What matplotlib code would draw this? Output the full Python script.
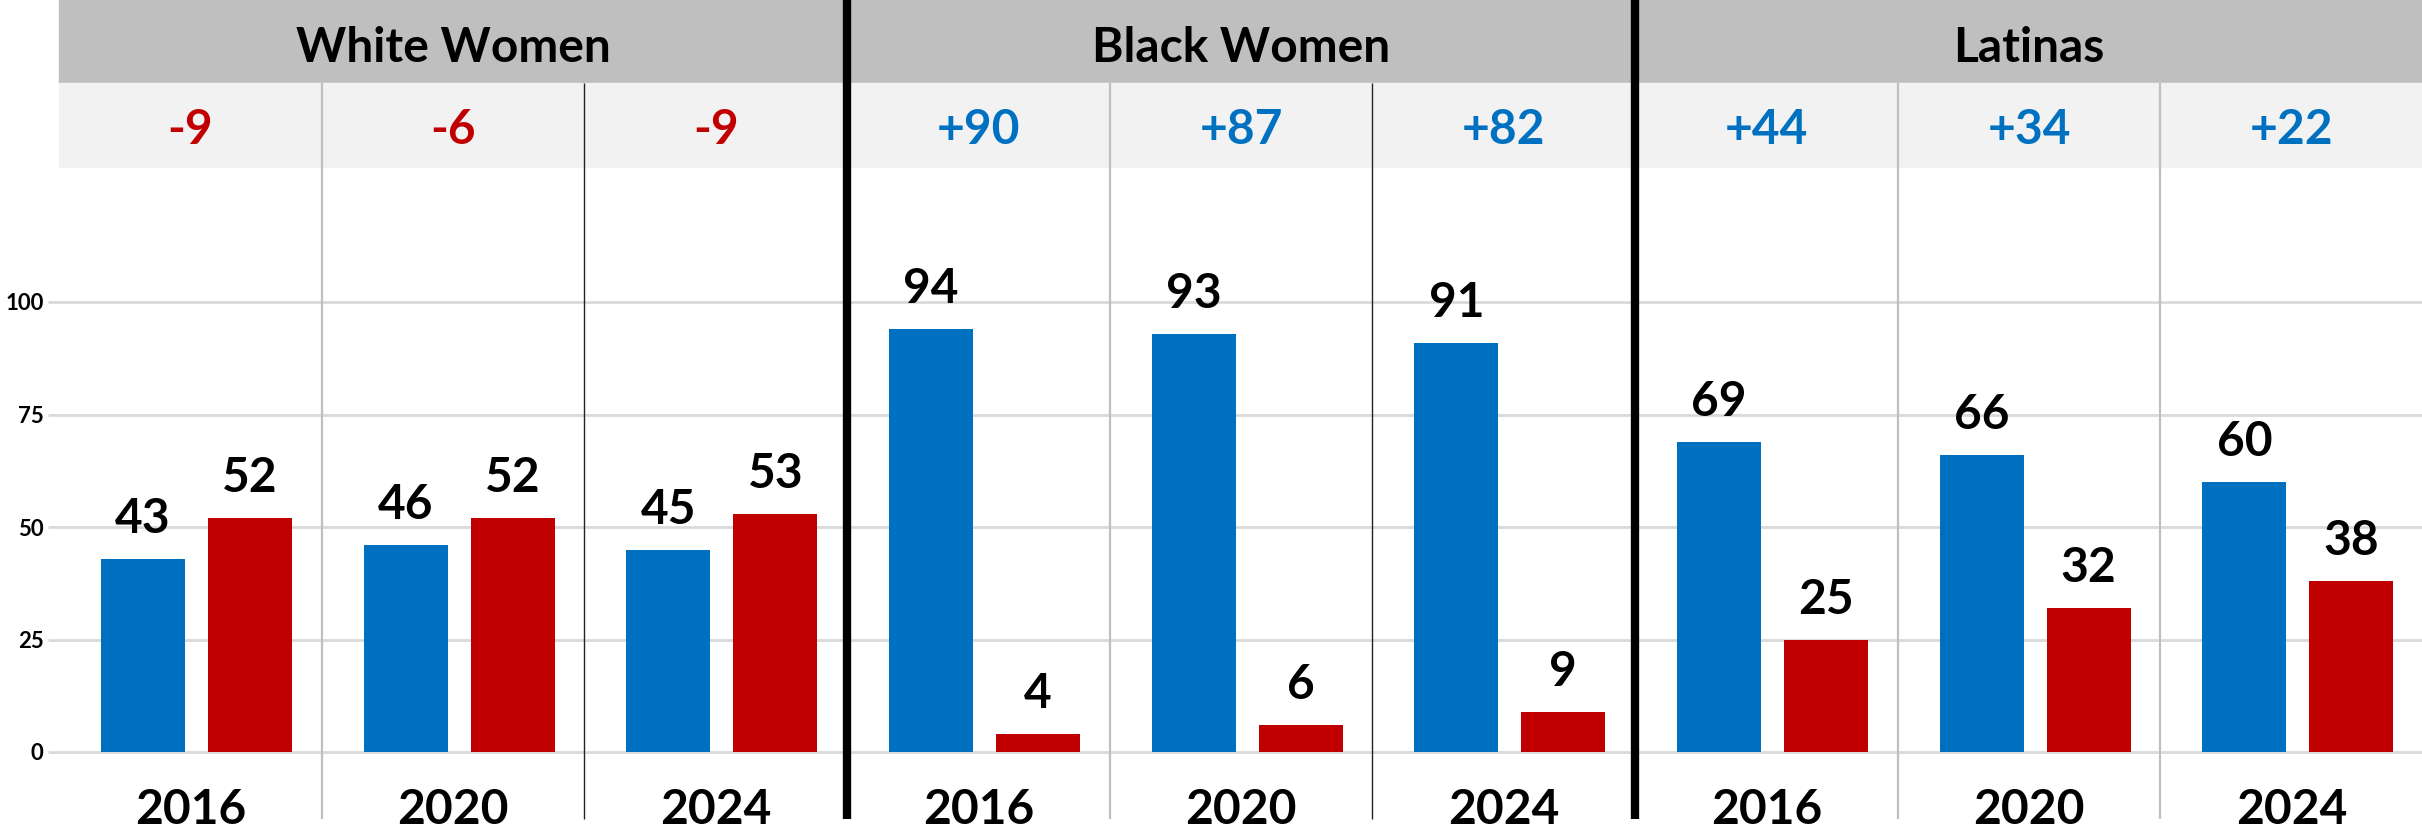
import numpy as np
import matplotlib.pyplot as plt

plt.rcParams['font.family'] = ['Lato', 'DejaVu Sans']

groups = ['White Women', 'Black Women', 'Latinas']
years = ['2016', '2020', '2024']
dem = [43, 46, 45, 94, 93, 91, 69, 66, 60]
rep = [52, 52, 53, 4, 6, 9, 25, 32, 38]
margin = ['-9', '-6', '-9', '+90', '+87', '+82', '+44', '+34', '+22']

BLUE = '#0070C0'
RED = '#C00000'

W, H = 2422, 836
fig = plt.figure(figsize=(W / 100, H / 100), dpi=100)
# axes spans the plot area: x from px 59, 9 clusters of ~262.7 px; y from 167 to 752
ax = fig.add_axes([59 / W, (H - 752) / H, 9 * 262.67 / W, 585 / H])
ax.set_xlim(0, 9)
ax.set_ylim(0, 130)
for s in ax.spines.values():
    s.set_visible(False)

n = len(dem)
x = np.arange(n)
bw = 0.32
fs = 34.5

# gridlines
for g in [0, 25, 50, 75, 100]:
    ax.hlines(g, -0.04, 9, color='#D9D9D9', lw=2, zorder=0, clip_on=False)

ax.bar(x + 0.32, dem, width=bw, color=BLUE, zorder=2)
ax.bar(x + 0.727, rep, width=bw, color=RED, zorder=2)

for i in range(n):
    ax.annotate(str(dem[i]), (x[i] + 0.32, dem[i]), xytext=(0, 18.5),
                textcoords='offset points', ha='center', va='baseline',
                fontsize=fs, fontweight='bold')
    ax.annotate(str(rep[i]), (x[i] + 0.727, rep[i]), xytext=(0, 18.5),
                textcoords='offset points', ha='center', va='baseline',
                fontsize=fs, fontweight='bold')

# header rows
ax.add_patch(plt.Rectangle((0, 148.7), 9, 20, color='#BFBFBF', clip_on=False, zorder=1))
ax.add_patch(plt.Rectangle((0, 130), 9, 18.7, color='#F2F2F2', clip_on=False, zorder=1))

for j, name in enumerate(groups):
    ax.text(3 * j + 1.5, 153.3, name, ha='center', va='baseline',
            fontsize=fs, fontweight='bold', clip_on=False, zorder=3)

for i in range(n):
    col = RED if margin[i].startswith('-') else BLUE
    ax.text(i + 0.5, 135.1, margin[i], ha='center', va='baseline', color=col,
            fontsize=fs, fontweight='bold', clip_on=False, zorder=3)
    ax.text(i + 0.5, -16.0, years[i % 3], ha='center', va='baseline',
            fontsize=fs, fontweight='bold', clip_on=False, zorder=3)

# separators
for i in range(1, n):
    if i % 3 == 0:
        ax.vlines(i, -14.9, 168, color='black', lw=6, zorder=4, clip_on=False)
    elif i % 3 == 2 and i < 6:
        ax.vlines(i, -14.9, 148.7, color='#222222', lw=1, zorder=4, clip_on=False)
    else:
        ax.vlines(i, -14.9, 148.7, color='#BFBFBF', lw=1.6, zorder=4, clip_on=False)

ax.set_xticks([])
ax.set_yticks([0, 25, 50, 75, 100])
ax.set_yticklabels(['0', '25', '50', '75', '100'])
ax.tick_params(axis='y', length=0, pad=11, labelsize=16)
for t in ax.get_yticklabels():
    t.set_fontweight('bold')

fig.savefig('out.png', dpi=100)
